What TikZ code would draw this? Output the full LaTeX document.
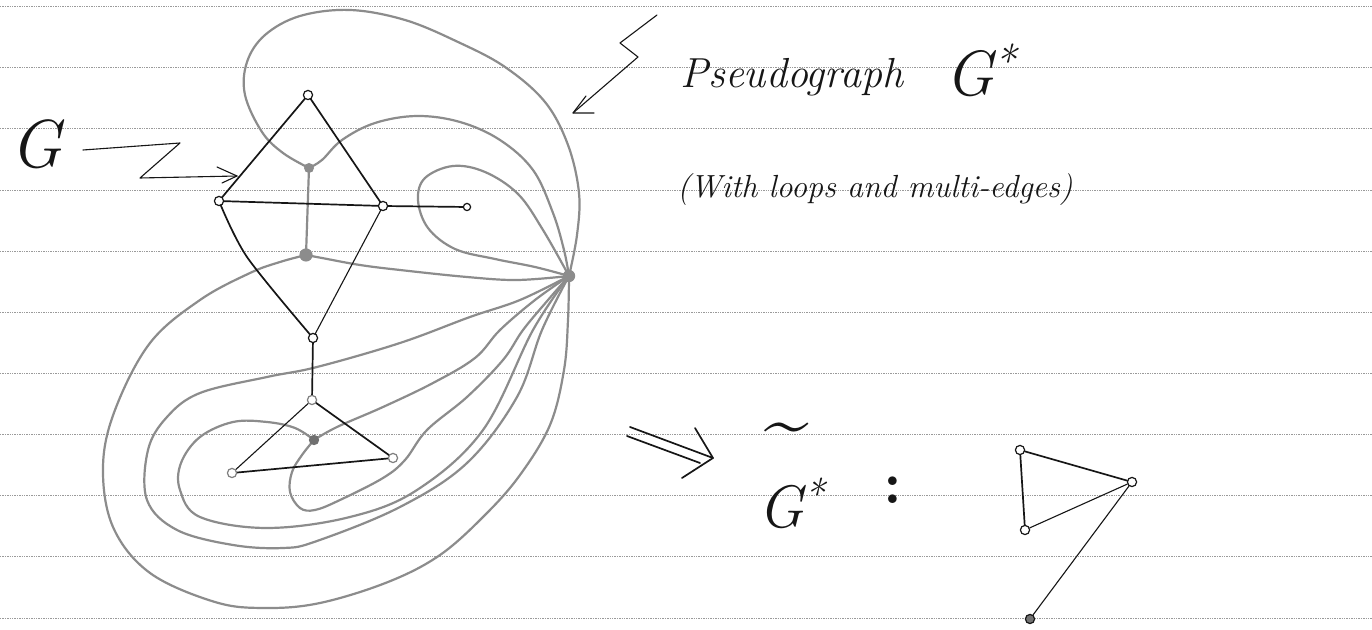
\documentclass[tikz,border=0pt]{standalone}
\usepackage{fontspec}
\definecolor{inkc}{HTML}{161616}
\definecolor{pencil}{HTML}{8C8C8C}
\definecolor{rulec}{HTML}{9A9A9A}
\begin{document}
\begin{tikzpicture}[x=0.5pt,y=-0.5pt,
  ink/.style={draw=inkc, line width=0.85pt, line cap=round, line join=round},
  thinink/.style={draw=inkc, line width=0.55pt, line cap=round, line join=round},
  dualedge/.style={draw=pencil, line width=1.1pt, line cap=round, line join=round},
  ruleline/.style={draw=rulec, line width=0.35pt, dash pattern=on 0.7pt off 0.5pt},
  bv/.style={circle, draw=inkc, fill=white, line width=0.6pt, inner sep=0pt, minimum size=4.6pt},
  lv/.style={bv, draw=inkc!55},
  gv/.style={circle, fill=pencil, inner sep=0pt, minimum size=5.6pt},
  hand/.style={text=inkc, inner sep=0pt}]
\useasboundingbox (0,0) rectangle (1372,630);
\fill[white] (0,0) rectangle (1372,630);
\foreach \k in {0,...,10} \draw[ruleline] (0,{6.5+61.15*\k}) -- (1372,{6.5+61.15*\k});

% positions
\coordinate (top) at (308,95);
\coordinate (lft) at (219,201);
\coordinate (rgt) at (383,206);
\coordinate (endv) at (467,207);
\coordinate (bot) at (313,338);
\coordinate (tT) at (312,400);
\coordinate (tL) at (232,473);
\coordinate (tR) at (393,458);
\coordinate (gu) at (309,168);
\coordinate (gm) at (306,255);
\coordinate (go) at (569,276);
\coordinate (gl) at (314,440);

% dual (gray) edges
\draw[dualedge] (gu) -- (gm);
\draw[dualedge] plot[smooth,tension=0.6] coordinates {(gu) (283,153) (262,132) (245,95) (247,62) (265,35) (300,16) (350,10) (405,20) (458,42) (505,67) (545,102) (568,145) (579,193) (577,235) (go)};
\draw[dualedge] plot[smooth,tension=0.6] coordinates {(gu) (322,160) (342,140) (375,123) (417,116) (460,122) (500,140) (533,170) (553,213) (564,250) (go)};
\draw[dualedge] plot[smooth,tension=0.6] coordinates {(go) (535,267) (495,259) (455,249) (428,228) (418,200) (425,178) (453,166) (485,172) (518,194) (543,230) (go)};
\draw[dualedge] plot[smooth,tension=0.6] coordinates {(gm) (322,258) (360,265) (400,270) (467,277) (517,280) (go)};
\draw[dualedge] plot[smooth,tension=0.6] coordinates {(gm) (280,262) (250,273) (200,300) (150,343) (115,410) (103,467) (113,527) (150,573) (215,602) (265,608) (320,603) (388,582) (440,555) (485,515) (520,475) (550,425) (564,370) (568,320) (go)};
\draw[dualedge] plot[smooth,tension=0.6] coordinates {(go) (520,300) (470,317) (400,343) (317,367) (267,377) (200,393) (167,417) (148,450) (147,500) (177,530) (233,545) (283,548) (317,541) (400,507) (467,463) (517,397) (542,330) (go)};
\draw[dualedge] plot[smooth,tension=0.6] coordinates {(gl) (295,428) (267,422) (233,422) (200,437) (181,463) (180,490) (200,517) (267,528) (350,517) (417,490) (483,430) (533,330) (go)};
\draw[dualedge] plot[smooth,tension=0.6] coordinates {(gl) (337,427) (383,407) (433,383) (475,358) (500,330) (535,300) (go)};
\draw[dualedge] plot[smooth,tension=0.6] coordinates {(gl) (302,455) (292,472) (290,492) (300,508) (315,510) (340,500) (383,478) (405,460) (427,430) (467,397) (503,360) (523,330) (548,300) (go)};

% graph G (black)
\draw[ink] (top) -- (lft);
\draw[ink] (top) -- (rgt);
\draw[ink] (lft) -- (rgt);
\draw[ink] (rgt) -- (endv);
\draw[ink] plot[smooth] coordinates {(lft) (247,257) (bot)};
\draw[thinink] (rgt) -- (bot);
\draw[ink] (bot) -- (tT);
\draw[ink] (tT) -- (tR);
\draw[thinink] (tT) -- (tL);
\draw[ink] (tL) -- (tR);

% vertices
\node[bv] (vtop) at (top) {};
\node[bv] (vlft) at (lft) {};
\node[bv] (vrgt) at (rgt) {};
\node[bv, minimum size=3.6pt] (vend) at (endv) {};
\node[bv] (vbot) at (bot) {};
\node[lv] (vtT) at (tT) {};
\node[lv] (vtL) at (tL) {};
\node[lv] (vtR) at (tR) {};
\node[gv, minimum size=5pt] (vgu) at (gu) {};
\node[gv, minimum size=6.6pt] (vgm) at (gm) {};
\node[gv, minimum size=6.2pt] (vgo) at (go) {};
\node[gv, minimum size=5.2pt, fill=pencil!80!black] (vgl) at (gl) {};

% simple graph on the right
\node[bv] (a1) at (1020,450) {};
\node[bv] (b1) at (1132,482) {};
\node[bv] (c1) at (1025,530) {};
\node[bv, fill=inkc!60] (d1) at (1030,619) {};
\draw[ink] (a1) -- (b1);
\draw[ink] (a1) -- (c1);
\draw[thinink] (c1) -- (b1);
\draw[thinink] (b1) -- (d1);

% labels
\node[hand, anchor=base west, font=\fontsize{34}{34}\selectfont\itshape] (glabel) at (10,168) {G};
\node[hand, anchor=base west, font=\fontsize{21}{24}\selectfont\itshape] (title) at (680,88) {Pseudograph};
\node[hand, anchor=base west, font=\fontsize{32}{32}\selectfont\itshape] (gstar) at (945,96) {G\textsuperscript{*}};
\node[hand, anchor=base west, font=\fontsize{16}{18}\selectfont\itshape] (sub) at (677,198) {(With loops and multi-edges)};
\node[hand, anchor=base west, font=\fontsize{30}{30}\selectfont\itshape] (gtilde) at (758,528) {G\textsuperscript{*}};
\node[hand, anchor=base, font=\fontsize{40}{40}\selectfont] (tilde) at (787,448) {\textasciitilde};
\node[hand, font=\fontsize{30}{30}\selectfont\bfseries] (colon) at (893,490) {:};

% annotation arrows
\coordinate (ga0) at (83,150);
\coordinate (ga1) at (180,143);
\coordinate (ga2) at (140,178);
\coordinate (ga3) at (237,176);
\coordinate (gb1) at (217,167);
\coordinate (gb2) at (222,183);
\draw[thinink] (ga0) -- (ga1) -- (ga2) -- (ga3);
\draw[thinink] (gb1) -- (ga3) -- (gb2);

\coordinate (pa0) at (657,15);
\coordinate (pa1) at (620,43);
\coordinate (pa2) at (638,57);
\coordinate (pa3) at (573,113);
\coordinate (pb1) at (586,96);
\coordinate (pb2) at (594,113);
\draw[thinink] (pa0) -- (pa1) -- (pa2) -- (pa3);
\draw[thinink] (pb1) -- (pa3) -- (pb2);

\coordinate (da0) at (630,427);
\coordinate (da1) at (627,436);
\coordinate (datip) at (713,458);
\coordinate (da2) at (700,463);
\coordinate (db1) at (695,428);
\coordinate (db2) at (682,478);
\draw[ink] (da0) -- (datip);
\draw[ink] (da1) -- (da2);
\draw[ink] (db1) -- (datip) -- (db2);
\end{tikzpicture}
\end{document}
